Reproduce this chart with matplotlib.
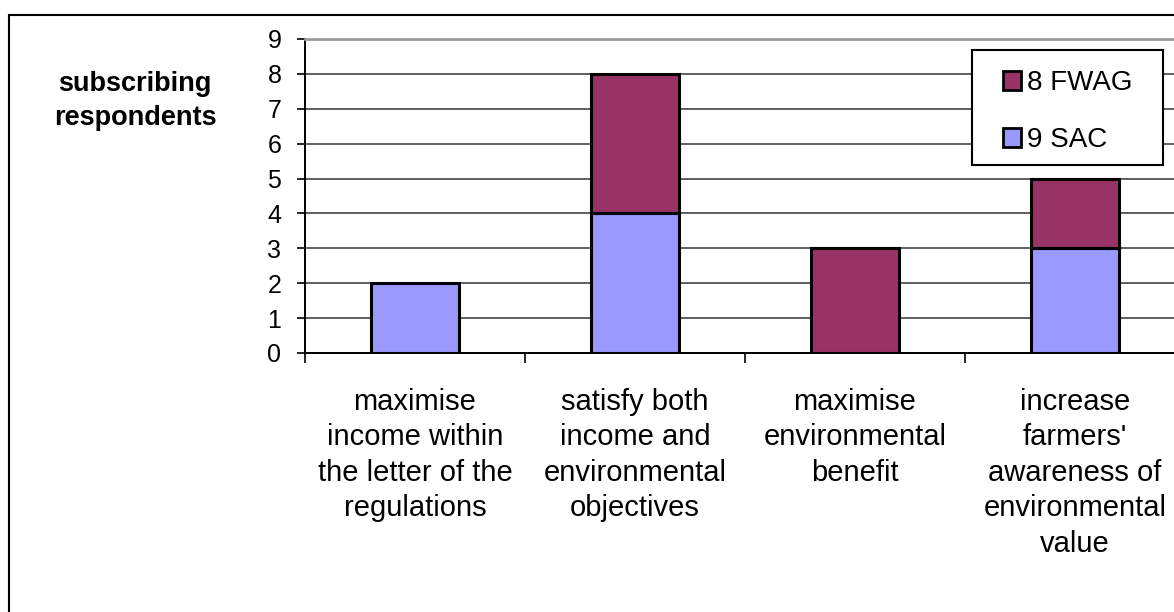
import matplotlib
matplotlib.use("Agg")
import matplotlib.pyplot as plt
from matplotlib.patches import Patch, Rectangle
import numpy as np

plt.rcParams['font.family'] = ['Liberation Sans', 'DejaVu Sans']

# Survey responses: stated aim of advice, split by advisory body
categories = [
    "maximise\nincome within\nthe letter of the\nregulations",
    "satisfy both\nincome and\nenvironmental\nobjectives",
    "maximise\nenvironmental\nbenefit",
    "increase\nfarmers'\nawareness of\nenvironmental\nvalue",
]
sac_counts = [2, 4, 0, 3]
fwag_counts = [0, 4, 3, 2]
series_labels = ["9 SAC", "8 FWAG"]
y_ticks = list(range(0, 10))

SAC_COLOR = "#9999FF"
FWAG_COLOR = "#993366"

W, H = 1174, 612
fig = plt.figure(figsize=(W / 100, H / 100), dpi=100)

# outer chart frame
fig.patches.append(Rectangle((9 / W, -0.2), 1.5, 1 - 15 / H + 0.2,
                             transform=fig.transFigure, fill=False,
                             edgecolor="black", linewidth=1.5, zorder=0))

ax = fig.add_axes([305 / W, 1 - 353 / H, 880 / W, 314 / H])

n = len(categories)
centers = np.arange(n) + 0.5
bar_w = 0.4
sac = np.array(sac_counts, dtype=float)
fwag = np.array(fwag_counts, dtype=float)

m = sac > 0
ax.bar(centers[m], sac[m], width=bar_w, color=SAC_COLOR,
       edgecolor="black", linewidth=2.2, zorder=3)
m = fwag > 0
ax.bar(centers[m], fwag[m], width=bar_w, bottom=sac[m], color=FWAG_COLOR,
       edgecolor="black", linewidth=2.2, zorder=3)

ax.set_xlim(0, n)
ax.set_ylim(0, 9)
ax.set_yticks(y_ticks)
ax.tick_params(axis="y", labelsize=18, length=6, width=1.2, pad=11,
               direction="out", color="black")
ax.yaxis.grid(True, color="#444444", linewidth=1.2, zorder=1)
ax.set_axisbelow(True)

ax.set_xticks(np.arange(n + 1))
ax.set_xticklabels([])
ax.tick_params(axis="x", which="major", length=7, width=1.2, direction="out")
ax.set_xticks(centers, minor=True)
ax.set_xticklabels(categories, minor=True, fontsize=21, linespacing=1.34)
ax.tick_params(axis="x", which="minor", length=0, pad=25)

for side in ("left", "bottom"):
    ax.spines[side].set_color("black")
    ax.spines[side].set_linewidth(1.4)
ax.spines["top"].set_color("#999999")
ax.spines["top"].set_linewidth(2)
ax.spines["right"].set_visible(False)

fig.text(135 / W, 1 - 101 / H, "subscribing\nrespondents", ha="center",
         va="center", fontsize=19.5, fontweight="bold", linespacing=1.38)

# legend box
ax.add_patch(Rectangle((972 / W, 1 - 165 / H), 191 / W, 115 / H,
                       transform=fig.transFigure, facecolor="white",
                       edgecolor="black", linewidth=1.5, clip_on=False,
                       zorder=4.5))

handles = [Patch(facecolor=FWAG_COLOR, edgecolor="black", linewidth=2),
           Patch(facecolor=SAC_COLOR, edgecolor="black", linewidth=2)]
leg = ax.legend(handles, [series_labels[1], series_labels[0]],
                loc="upper left", bbox_to_anchor=(1003 / W, 1 - 70 / H),
                bbox_transform=fig.transFigure, borderaxespad=0,
                fontsize=20, handlelength=0.65, handleheight=0.65,
                handletextpad=0.2, labelspacing=1.13, borderpad=0,
                frameon=False)
leg.set_zorder(5)

fig.savefig("out.png", dpi=100)
